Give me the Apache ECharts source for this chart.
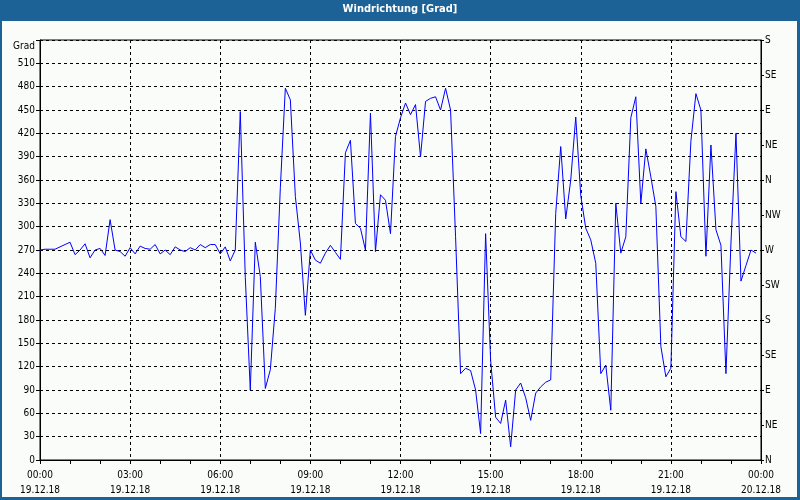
<!DOCTYPE html>
<html><head><meta charset="utf-8">
<script src="https://cdn.jsdelivr.net/npm/echarts@6/dist/echarts.min.js"></script>
<style>html,body{margin:0;padding:0;background:#1d6296;}#c{width:800px;height:500px;}</style>
</head><body><div id="c"></div>
<script>
const titleText = 'Windrichtung [Grad]';
const leftAxisUnit = 'Grad';
const xTickLabels = ['00:00\n19.12.18','03:00\n19.12.18','06:00\n19.12.18','09:00\n19.12.18','12:00\n19.12.18','15:00\n19.12.18','18:00\n19.12.18','21:00\n19.12.18','00:00\n20.12.18'];
const compassLabels = ['N','NE','E','SE','S','SW','W','NW','N','NE','E','SE','S'];
const stepMinutes = 10;
const windDirection = [
  270, 271, 271, 271, 274, 277, 280, 264, 270, 278,
  260, 270, 272, 263, 309, 270, 268, 262, 273, 265,
  275, 272, 271, 277, 265, 270, 264, 274, 270, 268,
  273, 270, 277, 273, 277, 277, 265, 274, 256, 270,
  448, 235, 90, 280, 236, 92, 116, 195, 350, 478,
  463, 339, 279, 186, 270, 257, 253, 266, 276, 267,
  258, 395, 411, 304, 298, 270, 446, 268, 341, 334,
  291, 416, 440, 459, 444, 457, 390, 461, 465, 467,
  450, 478, 450, 287, 111, 118, 115, 90, 34, 291,
  128, 55, 47, 77, 17, 90, 99, 80, 51, 86,
  94, 100, 103, 317, 403, 310, 360, 441, 340, 298,
  283, 253, 111, 122, 64, 330, 266, 287, 440, 467,
  330, 400, 364, 326, 146, 107, 118, 345, 287, 281,
  410, 471, 450, 262, 405, 296, 276, 111, 279, 420,
  230, 250, 270, 266
];

const FONT = "'Liberation Sans Narrow','DejaVu Sans Condensed','Liberation Sans',sans-serif";
const seriesData = windDirection.map((v, i) => [i * stepMinutes, v]);

const chart = echarts.init(document.getElementById('c'), null, {renderer: 'canvas'});
chart.setOption({
  animation: false,
  backgroundColor: '#1d6296',
  title: {
    text: titleText, left: 'center', top: 4, padding: 0,
    textStyle: {color: '#ffffff', fontWeight: 'bold', fontSize: 11, fontFamily: FONT}
  },
  graphic: [{
    type: 'rect', z: -10, silent: true,
    shape: {x: 2, y: 21, width: 795, height: 476},
    style: {fill: '#fafcfa'}
  }],
  grid: {left: 40, right: 39, top: 40, bottom: 40, show: true, borderColor: '#000', borderWidth: 1, backgroundColor: 'transparent'},
  xAxis: {
    type: 'value', min: 0, max: 1440, interval: 180,
    axisLine: {onZero: false, lineStyle: {color: '#000', width: 1}},
    axisTick: {show: true, length: 4, lineStyle: {color: '#000'}},
    minorTick: {show: true, splitNumber: 3, length: 4, lineStyle: {color: '#000'}},
    splitLine: {show: true, lineStyle: {color: '#000', width: 1, type: [3, 3]}},
    axisLabel: {
      formatter: v => xTickLabels[Math.round(v / 180)],
      color: '#000', fontSize: 10, lineHeight: 15, margin: 8, fontFamily: FONT,
      showMinLabel: true, showMaxLabel: true
    }
  },
  yAxis: [{
    type: 'value', min: 0, max: 540, interval: 30, position: 'left',
    axisLine: {show: true, lineStyle: {color: '#000', width: 1}},
    axisTick: {show: true, length: 4, lineStyle: {color: '#000'}},
    splitLine: {show: true, lineStyle: {color: '#000', width: 1, type: [3, 3]}},
    axisLabel: {
      formatter: v => v === 540 ? '{g|' + leftAxisUnit + '}' : String(v),
      color: '#000', fontSize: 10, margin: 5, fontFamily: FONT,
      showMinLabel: true, showMaxLabel: true,
      rich: {g: {color: '#000', fontSize: 10, fontFamily: FONT, padding: [12, 0, 0, 0]}}
    }
  }, {
    type: 'value', min: 0, max: 540, interval: 45, position: 'right',
    axisLine: {show: true, lineStyle: {color: '#000', width: 1}},
    axisTick: {show: true, length: 3, lineStyle: {color: '#000'}},
    splitLine: {show: false},
    axisLabel: {
      formatter: v => compassLabels[Math.round(v / 45)],
      color: '#000', fontSize: 10, margin: 4, fontFamily: FONT,
      showMinLabel: true, showMaxLabel: true
    }
  }],
  series: [{
    type: 'line', yAxisIndex: 0, data: seriesData,
    showSymbol: false, symbol: 'none',
    lineStyle: {color: '#0000ff', width: 1}
  }]
});
</script></body></html>
